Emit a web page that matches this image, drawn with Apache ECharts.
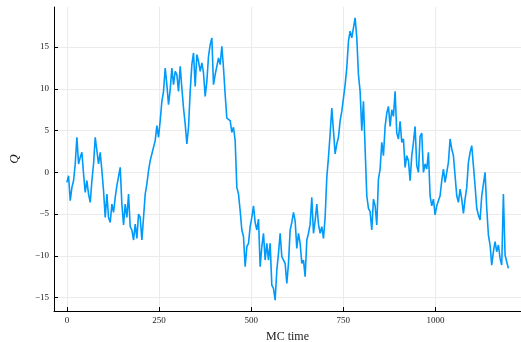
<!DOCTYPE html>
<html>
<head>
<meta charset="utf-8">
<script src="https://cdn.jsdelivr.net/npm/echarts@6/dist/echarts.min.js"></script>
<style>
  html, body { margin: 0; padding: 0; background: #fff; }
  #chart { width: 521px; height: 342px; }
</style>
</head>
<body>
<div id="chart"></div>
<script>
// MC time step between the sampled points
const timeStep = 4.52;

// Q values, in time order (0 .. ~1198)
const qFirst = [
    -1.2, -0.4, -3.4, -1.8, -1.0, 1.0, 4.2, 1.0, 1.8, 2.4, -0.2, -2.4, -1.0, -2.6, -3.6, -1.0, 1.0, 4.2, 2.6, 1.0,
    2.4, 0.2, -2.2, -5.4, -2.6, -5.4, -6.0, -3.8, -4.8, -3.0, -1.6, -1.8, 0.6, -3.8, -6.3, -3.8, -5.4, -2.6, -6.5, -6.9,
    -8.1, -6.2, -7.9, -5.0, -5.4, -8.1, -5.4, -2.6, -1.4, 0.2, 1.4, 1.2, 3.0, 3.8, 5.6, 4.2, 6.2, 8.5, 9.7, 12.5,
    10.5, 8.1, 9.9, 12.5, 10.5, 12.1, 11.7, 9.7, 12.7, 10.1, 7.7, 5.8, 3.4, 5.4, 9.7, 12.9, 14.3, 10.3, 14.1, 13.3,
    12.1, 13.1, 11.9, 9.1, 10.9, 13.9, 15.3, 16.1, 10.5
];
const qMiddle = [
    11.7, 11.9, 13.7, 12.9, 15.1, 12.5, 9.3, 6.5, 6.3, 6.2, 4.8, 5.4, 3.8, -1.8, -2.6, -4.6, -6.9, -7.7, -11.3, -8.9,
    -8.5, -6.5, -5.4, -4.0, -6.0, -6.9, -5.6, -11.3, -8.9, -7.3, -10.5, -8.5, -10.5, -8.5, -13.5, -13.9, -15.3, -11.7, -9.7, -7.3,
    -10.1, -10.5, -10.9, -13.3, -10.9, -6.9, -6.0, -4.8, -5.8, -9.1, -7.3, -8.5, -10.9, -10.5, -12.5, -8.1, -7.3, -6.2, -3.0, -7.3,
    -5.8, -3.8, -6.2, -7.3, -6.5, -7.9, -5.4, -0.6, 1.8, 4.6, 7.7, 5.0, 2.2, 3.4, 4.2, 6.2, 7.3, 8.9, 10.5, 12.5,
    15.7, 16.9, 16.1, 17.3, 18.5, 16.1, 11.7, 9.7, 5.0, 8.5
];
const qLast = [
    8.5, -2.8, -4.3, -4.7, -6.9, -3.2, -4.0, -6.3, -0.8, 0.4, 3.6, 2.0, 5.5, 7.1, 7.9, 5.5, 7.5, 6.7, 9.7, 4.7,
    4.0, 6.1, 3.6, 4.0, 0.6, 2.0, 1.4, -1.0, 2.0, 3.6, 5.5, 0.8, 0.0, 4.3, 4.7, 0.0, 1.0, 0.4, 2.4, -2.8,
    -4.0, -3.2, -5.1, -4.0, -3.8, -2.8, -1.0, 0.4, -1.2, -1.2, 1.2, 4.0, 2.8, 2.0, -0.4, -2.8, -3.6, -2.0, -3.2, -4.9,
    -3.2, -1.8, 1.2, 2.4, 3.2, 0.8, -1.6, -4.3, -5.1, -5.7, -2.8, -1.4, 0.0, -4.3, -7.5, -8.7, -11.1, -9.5, -8.3, -9.5,
    -8.7, -10.3, -11.1, -2.6, -9.9, -9.7, -11.5
];

const xTicks = [0, 250, 500, 750, 1000];
const yTicks = [-15, -10, -5, 0, 5, 10, 15];

const qValues = qFirst.concat(qMiddle, qLast);
const points = qValues.map((q, i) => [+(i * timeStep).toFixed(2), q]);

const fontFamily = '"Liberation Serif", "DejaVu Serif", serif';
const plainNumber = v => String(v).replace('-', '\u2212');

const chart = echarts.init(document.getElementById('chart'));
chart.setOption({
    animation: false,
    backgroundColor: '#fff',
    grid: {
        left: 54,
        right: 0,
        top: 7,
        bottom: 31,
        outerBoundsMode: 'none'
    },
    xAxis: {
        type: 'value',
        min: -35,
        max: 1232,
        name: 'MC time',
        nameLocation: 'middle',
        nameGap: 20,
        nameTextStyle: { fontFamily: fontFamily, fontSize: 12, color: '#222' },
        axisLine: { show: true, onZero: false, lineStyle: { color: '#000', width: 1 } },
        axisTick: { show: true, inside: true, length: 4, customValues: xTicks, lineStyle: { color: '#000' } },
        axisLabel: { customValues: xTicks, margin: 5, fontFamily: fontFamily, fontSize: 9, color: '#222', formatter: plainNumber },
        splitLine: { show: true, lineStyle: { color: '#ebebeb', width: 1 } }
    },
    yAxis: {
        type: 'value',
        min: -16.6,
        max: 19.8,
        name: 'Q',
        nameLocation: 'middle',
        nameGap: 33,
        nameRotate: 90,
        nameTextStyle: { fontFamily: fontFamily, fontSize: 13, fontStyle: 'italic', color: '#222' },
        axisLine: { show: true, onZero: false, lineStyle: { color: '#000', width: 1 } },
        axisTick: { show: true, inside: true, length: 4, customValues: yTicks, lineStyle: { color: '#000' } },
        axisLabel: { customValues: yTicks, margin: 5, fontFamily: fontFamily, fontSize: 9, color: '#222', formatter: plainNumber },
        splitLine: { show: true, lineStyle: { color: '#ebebeb', width: 1 } }
    },
    series: [
        {
            type: 'line',
            data: points,
            showSymbol: false,
            lineStyle: { color: '#009AFA', width: 1.6 },
            itemStyle: { color: '#009AFA' }
        }
    ]
});
</script>
</body>
</html>
